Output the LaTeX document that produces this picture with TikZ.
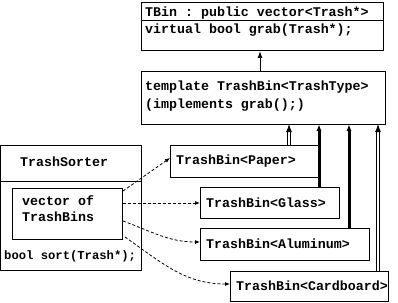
\documentclass[tikz,border=0pt]{standalone}
\usepackage{fontspec}
\setmonofont{Liberation Mono}
\usetikzlibrary{arrows.meta,positioning}

\tikzset{
	box/.style={draw, line width=1pt, inner sep=0pt, outer sep=0pt, anchor=north west},
	code/.style={font=\ttfamily\bfseries\fontsize{13.3}{15}\selectfont, inner sep=0pt, anchor=base west},
	heir/.style={-{Latex[length=7pt,width=5pt]}, line width=1pt},
	solidheir/.style={heir, line width=3pt},
	dblheir/.style={-{Latex[length=8pt,width=6pt]}, double=white, double distance=1.4pt, line width=1pt},
	uses/.style={-{Latex[length=5pt,width=4pt]}, dashed, dash pattern=on 3pt off 2pt, line width=0.8pt}
}

\begin{document}
\begin{tikzpicture}[x=1pt, y=-1pt]

		\useasboundingbox (0,0) rectangle (398,302);

		% base class
		\node[box, minimum width=242pt, minimum height=48pt] (tbin) at (141,3) {};
		\draw[line width=1pt] (tbin.west |- 0,21) -- (tbin.east |- 0,21);
		\node[code] (tbinA) at (145,17) {TBin : public vector<Trash*>};
		\node[code] (tbinB) at (145,34) {virtual bool grab(Trash*);};

		% template
		\node[box, minimum width=244pt, minimum height=52pt] (tmpl) at (141,72) {};
		\node[code] (tmplA) at (145,91) {template TrashBin<TrashType>};
		\node[code] (tmplB) at (145,108) {(implements grab();)};
		\draw[heir] (tmpl.north -| 260,0) -- (tbin.south -| 260,0);

		% the four bins: name/left/top/width/height/arrow x/arrow style/label
		\foreach \nm/\bx/\by/\bw/\bh/\ax/\st/\lbl in {
			paper/170/145/148/32/289/dblheir/Paper,
			glass/200/187/139/31/319/solidheir/Glass,
			alum/200/228/169/32/349/solidheir/Aluminum,
			card/230/271/158/30/378/dblheir/Cardboard}{
			\node[box, minimum width=\bw pt, minimum height=\bh pt] (\nm) at (\bx,\by) {};
			\node[code, anchor=west] (\nm txt) at ([xshift=6pt]\nm.west) {TrashBin<\lbl>};
			\draw[\st] (\nm.north -| \ax,0) -- (tmpl.south -| \ax,0);
		}

		% sorter
		\node[box, minimum width=141pt, minimum height=125pt] (sorter) at (0.5,145) {};
		\draw[line width=1pt] (sorter.west |- 0,181) -- (sorter.east |- 0,181);
		\node[code] (sorterA) at (20,166) {TrashSorter};
		\node[box, minimum width=110pt, minimum height=51pt] (vec) at (12,188) {};
		\node[code] (vecA) at (22,205) {vector of};
		\node[code] (vecB) at (22,221) {TrashBins};
		\node[code, font=\ttfamily\bfseries\fontsize{12.2}{14}\selectfont] (sortfn) at (4,259) {bool sort(Trash*);};

		% references from the vector to the bins
		\coordinate (v1) at (123,191);
		\coordinate (v2) at (123,203);
		\coordinate (v3) at (123,221);
		\coordinate (v4) at (125,237);
		\draw[uses] (v1) -- (paper.west |- 0,158);
		\draw[uses] (v2) -- (glass.west |- 0,203);
		\draw[uses] (v3) to[out=-20, in=180] (alum.west |- 0,242);
		\draw[uses] (v4) to[out=-35, in=180] (card.west |- 0,284);

	\end{tikzpicture}
\end{document}
